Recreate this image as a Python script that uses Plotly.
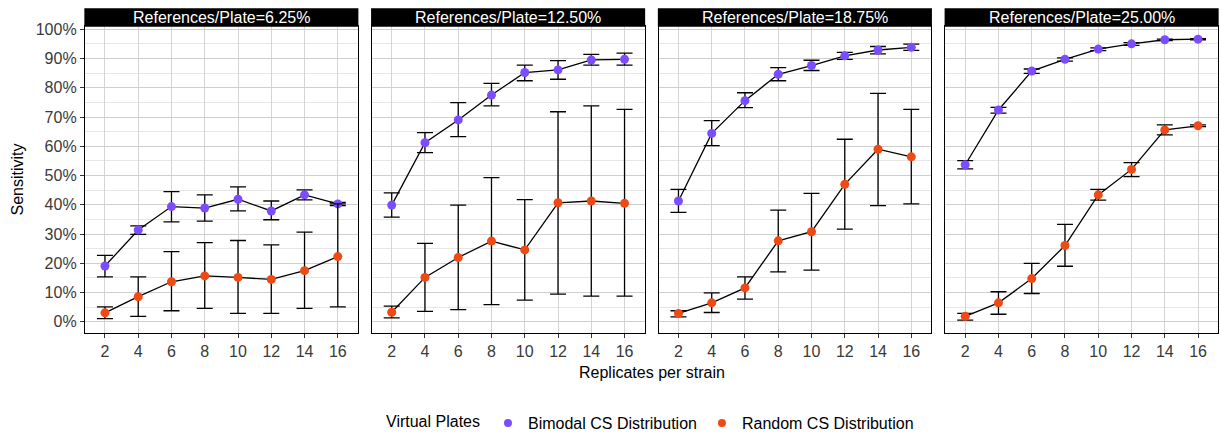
import plotly.graph_objects as go
from plotly.subplots import make_subplots

replicates = [2, 4, 6, 8, 10, 12, 14, 16]
plate_labels = ["6.25%", "12.50%", "18.75%", "25.00%"]
series_names = ["Bimodal CS Distribution", "Random CS Distribution"]
y_ticks = [0, 10, 20, 30, 40, 50, 60, 70, 80, 90, 100]
y_tick_labels = ["0%", "10%", "20%", "30%", "40%", "50%", "60%", "70%", "80%", "90%", "100%"]

# Bimodal CS Distribution (mean, lower, upper) per panel
bimodal_mean_p1 = [19.1, 31.4, 39.4, 38.9, 41.9, 37.9, 43.4, 40.3]
bimodal_low_p1 = [15.4, 29.9, 34.2, 34.4, 37.9, 34.9, 41.7, 39.7]
bimodal_high_p1 = [22.7, 32.8, 44.5, 43.4, 46.1, 41.3, 45.1, 40.8]

bimodal_mean_p2 = [39.9, 61.2, 69.0, 77.5, 85.2, 86.1, 89.5, 89.7]
bimodal_low_p2 = [35.8, 57.8, 63.3, 73.8, 82.4, 82.9, 87.7, 87.7]
bimodal_high_p2 = [44.1, 64.7, 74.9, 81.5, 87.7, 89.3, 91.4, 91.8]

bimodal_mean_p3 = [41.3, 64.4, 75.6, 84.6, 87.6, 90.9, 92.9, 93.8]
bimodal_low_p3 = [37.4, 60.2, 73.2, 82.4, 85.9, 89.7, 91.6, 92.8]
bimodal_high_p3 = [45.3, 68.8, 78.3, 86.9, 89.4, 92.1, 94.1, 94.9]

bimodal_mean_p4 = [53.7, 72.4, 85.7, 89.7, 93.2, 95.0, 96.4, 96.6]
bimodal_low_p4 = [52.3, 71.3, 84.9, 89.1, 92.7, 94.5, 96.1, 96.4]
bimodal_high_p4 = [55.1, 73.3, 86.4, 90.2, 93.6, 95.4, 96.6, 96.8]

# Random CS Distribution (mean, lower, upper) per panel
random_mean_p1 = [3.1, 8.6, 13.7, 15.7, 15.2, 14.5, 17.5, 22.3]
random_low_p1 = [1.1, 1.9, 3.8, 4.6, 2.9, 2.9, 4.6, 5.1]
random_high_p1 = [5.1, 15.4, 24.0, 27.1, 27.8, 26.3, 30.7, 40.3]

random_mean_p2 = [3.3, 15.2, 22.0, 27.6, 24.6, 40.7, 41.3, 40.5]
random_low_p2 = [1.4, 3.6, 4.2, 5.9, 7.4, 9.5, 8.8, 8.8]
random_high_p2 = [5.4, 26.8, 39.9, 49.3, 41.8, 71.8, 73.8, 72.6]

random_mean_p3 = [2.9, 6.5, 11.6, 27.7, 30.8, 47.0, 59.0, 56.4]
random_low_p3 = [1.7, 3.2, 7.8, 17.1, 17.7, 31.7, 39.7, 40.3]
random_high_p3 = [3.8, 9.9, 15.4, 38.2, 43.9, 62.4, 78.1, 72.6]

random_mean_p4 = [1.9, 6.5, 14.8, 26.1, 43.4, 52.1, 65.6, 67.0]
random_low_p4 = [0.6, 2.6, 9.7, 19.0, 41.6, 49.6, 63.9, 66.7]
random_high_p4 = [2.9, 10.3, 20.0, 33.3, 45.3, 54.4, 67.3, 67.3]

panels = [
    ((bimodal_mean_p1, bimodal_low_p1, bimodal_high_p1), (random_mean_p1, random_low_p1, random_high_p1)),
    ((bimodal_mean_p2, bimodal_low_p2, bimodal_high_p2), (random_mean_p2, random_low_p2, random_high_p2)),
    ((bimodal_mean_p3, bimodal_low_p3, bimodal_high_p3), (random_mean_p3, random_low_p3, random_high_p3)),
    ((bimodal_mean_p4, bimodal_low_p4, bimodal_high_p4), (random_mean_p4, random_low_p4, random_high_p4)),
]
colors = ["#7B4DFF", "#F04A14"]

W, H = 1220, 435
ML, MR, MT, MB = 85, 2, 26, 102
plot_w = W - ML - MR
plot_h = H - MT - MB
gap = 14

fig = make_subplots(rows=1, cols=4, shared_yaxes=True,
                    horizontal_spacing=gap / plot_w)

FONT = "Liberation Sans, Arial, sans-serif"
FS = 16
TICK_COLOR = "#3a3a3a"

for c, (bim, rnd) in enumerate(panels, start=1):
    for s, (mean, lo, hi) in enumerate([bim, rnd]):
        fig.add_trace(go.Scatter(
            x=replicates, y=mean,
            mode="lines+markers",
            line=dict(color="black", width=1.3),
            marker=dict(color=colors[s], size=9, line=dict(width=0)),
            error_y=dict(type="data", symmetric=False,
                         array=[h - m for h, m in zip(hi, mean)],
                         arrayminus=[m - l for m, l in zip(mean, lo)],
                         color="black", thickness=1.3, width=8),
            showlegend=False, hoverinfo="x+y",
        ), row=1, col=c)

# legend-only traces
for s, name in enumerate(series_names):
    fig.add_trace(go.Scatter(
        x=[None], y=[None], mode="markers", name=name,
        marker=dict(color=colors[s], size=8),
        showlegend=True,
    ), row=1, col=1)

strip_h = 17 / plot_h
for c in range(1, 5):
    fig.update_xaxes(
        range=[0.8, 17.2], tickvals=replicates, ticktext=[str(v) for v in replicates],
        showgrid=True, gridcolor="#d4d4d4", gridwidth=1,
        showline=True, mirror=True, linecolor="black", linewidth=1.3,
        ticks="outside", ticklen=4, tickcolor="#333333", tickwidth=1,
        tickfont=dict(size=FS, color=TICK_COLOR, family=FONT),
        zeroline=False, row=1, col=c)
    fig.update_yaxes(
        range=[-3.8, 101.1], tickvals=y_ticks, ticktext=y_tick_labels,
        showgrid=True, gridcolor="#cfcfcf", gridwidth=1,
        minor=dict(dtick=5, tick0=0, showgrid=True, gridcolor="#e6e6e6", gridwidth=1, ticks=""),
        showline=True, mirror=True, linecolor="black", linewidth=1.3,
        ticks="outside" if c == 1 else "", ticklen=4, tickcolor="#333333", tickwidth=1,
        showticklabels=(c == 1),
        tickfont=dict(size=FS, color=TICK_COLOR, family=FONT),
        zeroline=False, row=1, col=c)

fig.update_yaxes(title=dict(text="Sensitivity", font=dict(size=FS, color="black", family=FONT), standoff=8),
                 row=1, col=1)

# strips
for c in range(1, 5):
    key = "xaxis" if c == 1 else f"xaxis{c}"
    dom = fig.layout[key].domain
    fig.add_shape(type="rect", xref="paper", yref="paper",
                  x0=dom[0], x1=dom[1], y0=1, y1=1 + strip_h,
                  fillcolor="black", line=dict(color="black", width=1.3), layer="above")
    fig.add_annotation(xref="paper", yref="paper", x=(dom[0] + dom[1]) / 2, y=1 + strip_h / 2,
                       text=f"References/Plate={plate_labels[c-1]}", showarrow=False,
                       font=dict(size=16, color="white", family=FONT),
                       xanchor="center", yanchor="middle")

fig.add_annotation(xref="paper", yref="paper", x=0.5, y=(333 - 372) / plot_h,
                   text="Replicates per strain", showarrow=False,
                   font=dict(size=FS, color="black", family=FONT),
                   xanchor="center", yanchor="middle")

fig.update_layout(
    width=W, height=H,
    margin=dict(l=ML, r=MR, t=MT, b=MB, autoexpand=False),
    plot_bgcolor="white", paper_bgcolor="white",
    font=dict(family=FONT, size=FS, color="black"),
    legend=dict(orientation="h", x=0.5, xanchor="center",
                y=(333 - 423) / plot_h, yanchor="middle",
                title=dict(text="Virtual Plates", side="left", font=dict(size=FS, family=FONT)),
                font=dict(size=FS, family=FONT), itemwidth=30, tracegroupgap=0),
)

fig.write_html("out.html")
